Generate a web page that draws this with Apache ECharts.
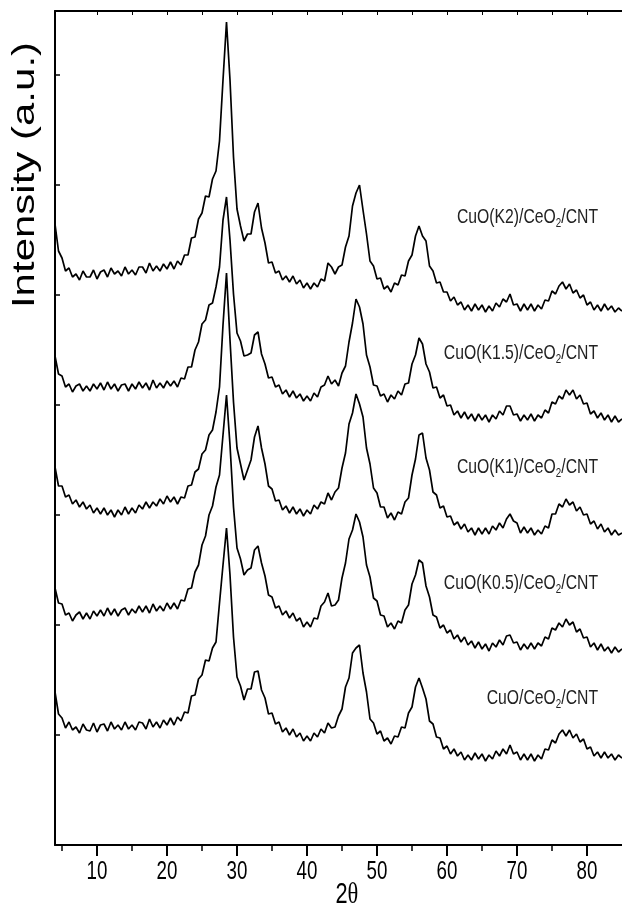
<!DOCTYPE html>
<html>
<head>
<meta charset="utf-8">
<script src="https://cdn.jsdelivr.net/npm/echarts@6/dist/echarts.min.js"></script>
<style>
html, body { margin: 0; padding: 0; background: #fff; }
#main { width: 622px; height: 913px; }
</style>
</head>
<body>
<div id="main"></div>
<script>
// XRD patterns, every 0.5 deg from 4 to 85 (2theta)
// values are the stacked heights in a.u. (curves already offset)
const xStart = 4
const xStep = 0.5

const k2 = [
	621, 594, 587, 574, 577, 568, 571, 565, 574, 568,
	568, 575, 566, 573, 575, 568, 577, 571, 574, 569,
	578, 571, 575, 570, 578, 578, 572, 582, 574, 579,
	574, 581, 576, 583, 576, 584, 580, 590, 590, 607,
	608, 626, 632, 649, 648, 666, 674, 704, 765, 823,
	765, 688, 636, 619, 604, 611, 611, 633, 642, 617,
	602, 582, 583, 572, 574, 565, 569, 563, 569, 561,
	565, 557, 562, 556, 562, 558, 566, 564, 582, 578,
	571, 578, 580, 598, 609, 639, 652, 660, 635, 611,
	584, 579, 566, 567, 556, 559, 553, 562, 560, 570,
	569, 584, 590, 609, 619, 609, 604, 579, 574, 562,
	563, 553, 553, 544, 548, 540, 543, 535, 540, 534,
	541, 535, 540, 533, 539, 534, 542, 538, 546, 543,
	551, 540, 541, 534, 541, 535, 541, 534, 540, 536,
	545, 544, 554, 551, 559, 563, 556, 561, 552, 555,
	547, 550, 540, 543, 535, 540, 534, 541, 535, 539,
	533, 537, 534,
]
const k15 = [
	489, 471, 469, 458, 461, 453, 459, 461, 454, 459,
	454, 461, 456, 462, 455, 463, 456, 461, 454, 460,
	461, 454, 461, 456, 463, 457, 462, 455, 465, 457,
	462, 457, 464, 459, 464, 458, 467, 466, 478, 478,
	495, 503, 521, 525, 540, 542, 558, 578, 625, 648,
	605, 551, 512, 504, 489, 490, 492, 510, 513, 491,
	481, 467, 468, 458, 460, 451, 455, 448, 454, 447,
	451, 444, 449, 444, 452, 448, 458, 460, 469, 461,
	465, 459, 472, 479, 503, 522, 546, 538, 521, 490,
	478, 460, 459, 449, 451, 443, 450, 446, 454, 450,
	461, 462, 481, 490, 507, 501, 481, 473, 457, 458,
	447, 450, 439, 440, 430, 434, 427, 433, 426, 431,
	424, 431, 425, 430, 423, 430, 426, 434, 430, 439,
	439, 430, 431, 424, 430, 425, 431, 424, 430, 427,
	435, 432, 443, 441, 449, 446, 455, 450, 455, 446,
	450, 441, 442, 431, 434, 427, 432, 425, 430, 423,
	429, 423, 426,
]
const k1 = [
	378, 359, 359, 348, 350, 341, 345, 338, 343, 336,
	340, 332, 337, 331, 337, 330, 335, 328, 335, 330,
	338, 331, 337, 332, 340, 336, 343, 337, 343, 339,
	346, 341, 349, 343, 348, 341, 348, 347, 359, 360,
	373, 376, 391, 395, 410, 415, 433, 458, 520, 572,
	505, 443, 397, 381, 365, 375, 385, 408, 419, 397,
	381, 359, 356, 344, 345, 335, 339, 332, 338, 331,
	336, 329, 335, 331, 340, 336, 343, 341, 352, 345,
	353, 357, 377, 392, 421, 432, 451, 441, 428, 397,
	381, 357, 352, 338, 338, 327, 332, 325, 333, 331,
	343, 347, 370, 386, 410, 412, 387, 375, 353, 350,
	337, 339, 328, 329, 320, 323, 316, 321, 313, 317,
	310, 317, 311, 317, 311, 319, 315, 322, 317, 326,
	331, 324, 322, 312, 318, 312, 317, 310, 315, 311,
	319, 317, 331, 331, 341, 338, 346, 340, 343, 334,
	338, 330, 331, 321, 324, 316, 321, 313, 317, 310,
	315, 310, 312,
]
const k05 = [
	257, 242, 241, 230, 232, 224, 230, 233, 226, 232,
	226, 234, 229, 235, 229, 237, 230, 236, 229, 235,
	237, 230, 236, 232, 239, 233, 239, 232, 241, 234,
	239, 234, 242, 236, 242, 236, 245, 244, 256, 257,
	273, 280, 300, 309, 330, 339, 358, 370, 410, 450,
	400, 338, 297, 286, 270, 275, 277, 295, 299, 282,
	269, 250, 248, 237, 239, 230, 234, 227, 232, 224,
	227, 218, 223, 218, 227, 226, 239, 243, 252, 239,
	240, 245, 267, 282, 306, 315, 331, 323, 308, 280,
	268, 247, 244, 230, 229, 218, 222, 216, 224, 222,
	235, 240, 261, 270, 285, 282, 259, 248, 230, 228,
	217, 220, 212, 215, 206, 210, 203, 208, 200, 204,
	197, 203, 196, 201, 194, 202, 198, 205, 200, 209,
	210, 202, 203, 195, 201, 196, 202, 196, 202, 199,
	208, 206, 217, 215, 222, 218, 226, 220, 223, 213,
	216, 207, 208, 198, 202, 195, 201, 194, 198, 192,
	198, 193, 196,
]
const k0 = [
	153, 131, 127, 117, 123, 115, 118, 112, 121, 115,
	114, 122, 113, 120, 121, 114, 123, 116, 120, 115,
	123, 116, 120, 115, 123, 122, 116, 126, 118, 123,
	117, 125, 120, 127, 120, 128, 124, 133, 132, 149,
	150, 166, 170, 185, 184, 197, 203, 242, 280, 317,
	270, 208, 168, 159, 145, 156, 156, 173, 174, 155,
	147, 131, 132, 121, 123, 113, 117, 110, 116, 108,
	112, 104, 109, 104, 112, 108, 116, 112, 122, 117,
	118, 129, 136, 158, 167, 192, 197, 200, 172, 153,
	126, 122, 111, 114, 104, 107, 101, 109, 108, 118,
	117, 132, 138, 158, 167, 157, 146, 124, 121, 108,
	107, 96, 99, 91, 96, 89, 93, 85, 90, 85,
	92, 86, 91, 84, 90, 86, 94, 89, 96, 91,
	100, 91, 93, 85, 91, 85, 91, 84, 90, 86,
	96, 95, 105, 102, 111, 115, 109, 115, 107, 111,
	103, 106, 96, 98, 89, 93, 87, 93, 87, 91,
	85, 90, 87,
]

const curves = [k2, k15, k1, k05, k0]
// label = head + subscript 2 + tail
const labelHeads = ['CuO(K2)/CeO', 'CuO(K1.5)/CeO', 'CuO(K1)/CeO', 'CuO(K0.5)/CeO', 'CuO/CeO']
const labelTail = '/CNT'

const majorTicks = [10, 20, 30, 40, 50, 60, 70, 80]
const minorTicks = [5, 15, 25, 35, 45, 55, 65, 75]
const topTicks = [10, 15, 20, 25, 30, 35, 40, 45, 50, 55, 60, 65, 70, 75, 80]
const yTitle = 'Intensity (a.u.)'

// layout
const labelY = [217, 353, 467, 583, 698]
const squeeze = 0.75
const font = 'Liberation Sans, Arial, sans-serif'

const chart = echarts.init(document.getElementById('main'), null, { renderer: 'canvas' })

chart.setOption({
	animation: false,
	grid: { left: 55, right: -5, top: 11, bottom: 68 },
	xAxis: [
		{
			type: 'value', position: 'bottom', min: 4, max: 85,
			axisLine: { lineStyle: { color: '#000', width: 2 } },
			axisTick: { customValues: majorTicks, length: 11, lineStyle: { color: '#000', width: 2 } },
			axisLabel: { show: false },
			splitLine: { show: false },
		},
		{
			type: 'value', position: 'bottom', min: 4, max: 85,
			axisLine: { show: false },
			axisTick: { customValues: minorTicks, length: 6, lineStyle: { color: '#000', width: 1.5 } },
			axisLabel: { show: false },
			splitLine: { show: false },
		},
		{
			type: 'value', position: 'top', min: 4, max: 85,
			axisLine: { lineStyle: { color: '#000', width: 2 } },
			axisTick: { customValues: topTicks, inside: true, length: 4, lineStyle: { color: '#000', width: 1 } },
			axisLabel: { show: false },
			splitLine: { show: false },
		},
	],
	yAxis: {
		type: 'value', min: 0, max: 834, interval: 110,
		axisLine: { show: true, lineStyle: { color: '#000', width: 2 } },
		axisTick: { show: true, inside: true, length: 5, lineStyle: { color: '#000', width: 1.5 } },
		axisLabel: { show: false },
		splitLine: { show: false },
	},
	series: curves.map(c => ({
		type: 'line',
		data: c.map((v, i) => [xStart + i * xStep, v]),
		showSymbol: false,
		symbol: 'none',
		silent: true,
		lineStyle: { color: '#000', width: 1.7 },
	})),
})

// texts are squeezed sideways like in the original figure
const graphic = []
majorTicks.forEach(v => {
	graphic.push({
		type: 'text',
		x: chart.convertToPixel({ xAxisIndex: 0 }, v),
		y: 872,
		scaleX: squeeze,
		style: { text: String(v), font: '25px ' + font, fill: '#000', textAlign: 'center', textVerticalAlign: 'middle' },
	})
})
graphic.push({
	type: 'text',
	x: chart.convertToPixel({ xAxisIndex: 0 }, 45.7),
	y: 895,
	scaleX: squeeze,
	style: {
		text: '{a|2}{b|θ}',
		textAlign: 'center',
		textVerticalAlign: 'middle',
		rich: {
			a: { fontSize: 29, fontFamily: font, fill: '#000' },
			b: { fontSize: 30, fontFamily: 'Liberation Serif, serif', fill: '#000' },
		},
	},
})
graphic.push({
	type: 'text',
	x: 25,
	y: 175,
	rotation: Math.PI / 2,
	scaleY: squeeze,
	style: { text: yTitle, font: '42px ' + font, fill: '#000', textAlign: 'center', textVerticalAlign: 'middle' },
})
labelHeads.forEach((h, i) => {
	graphic.push({
		type: 'text',
		x: 598,
		y: labelY[i],
		scaleX: squeeze,
		style: {
			text: '{n|' + h + '}{s|2}{n|' + labelTail + '}',
			fill: '#222',
			textAlign: 'right',
			textVerticalAlign: 'middle',
			rich: {
				n: { fontSize: 21, fontFamily: font, lineHeight: 24, fill: '#222' },
				s: { fontSize: 13, fontFamily: font, lineHeight: 13, padding: [13, 0, 0, 0], fill: '#222' },
			},
		},
	})
})
chart.setOption({ graphic: graphic })
</script>
</body>
</html>
